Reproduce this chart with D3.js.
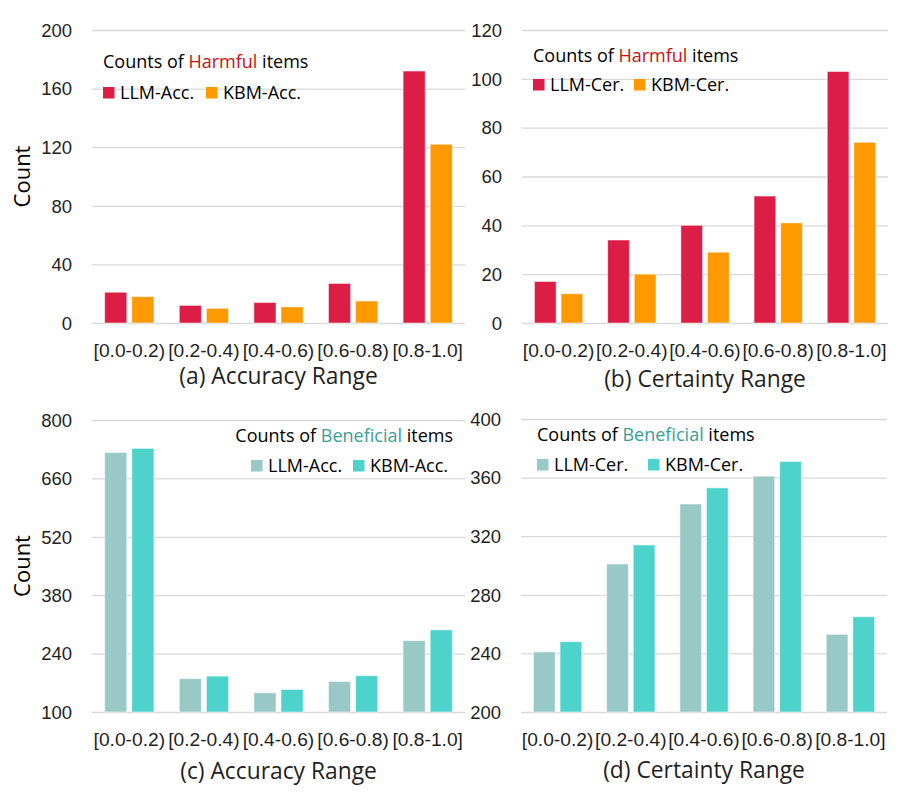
<!DOCTYPE html>
<html>
<head>
<meta charset="utf-8">
<script src="https://cdn.jsdelivr.net/npm/d3@7"></script>
<style>
  html, body { margin: 0; padding: 0; background: #fff; }
  svg { display: block; font-family: "Open Sans", "Noto Sans", sans-serif; }
</style>
</head>
<body>
<svg id="chart" width="897" height="797"></svg>
<script>
// ---------- data ----------
const categories = ["[0.0-0.2)", "[0.2-0.4)", "[0.4-0.6)", "[0.6-0.8)", "[0.8-1.0]"];

const harmfulAccLLM = [21, 12, 14, 27, 172];
const harmfulAccKBM = [18, 10, 11, 15, 122];
const harmfulCerLLM = [17, 34, 40, 52, 103];
const harmfulCerKBM = [12, 20, 29, 41, 74];
const beneficialAccLLM = [722, 180, 146, 173, 271];
const beneficialAccKBM = [732, 186, 154, 187, 297];
const beneficialCerLLM = [241, 301, 342, 361, 253];
const beneficialCerKBM = [248, 314, 353, 371, 265];

const ticksA = [0, 40, 80, 120, 160, 200];
const ticksB = [0, 20, 40, 60, 80, 100, 120];
const ticksC = [100, 240, 380, 520, 660, 800];
const ticksD = [200, 240, 280, 320, 360, 400];

const seriesNamesAcc = ["LLM-Acc.", "KBM-Acc."];
const seriesNamesCer = ["LLM-Cer.", "KBM-Cer."];
const titles = ["(a) Accuracy Range", "(b) Certainty Range", "(c) Accuracy Range", "(d) Certainty Range"];

// ---------- styles ----------
const harmfulColors = ["#DC1E46", "#FF9900"];
const beneficialColors = ["#98C9C6", "#4DD3CC"];
const harmfulWordColor = "#CC1010";
const beneficialWordColor = "#3A9E96";
const gridColor = "#D9D9D9";
const textColor = "#1f1f1f";

const svg = d3.select("#chart");

const panels = [
  { left: 92, right: 465, top: 30, bottom: 323, ticks: ticksA, values: [harmfulAccLLM, harmfulAccKBM],
    names: seriesNamesAcc, colors: harmfulColors, word: "Harmful", wordColor: harmfulWordColor,
    title: titles[0], titleY: 384, showCount: true,
    legend: { align: "left", x: 103, titleY: 68, rowY: 99, x2: 206 } },
  { left: 522, right: 888, top: 30, bottom: 323, ticks: ticksB, values: [harmfulCerLLM, harmfulCerKBM],
    names: seriesNamesCer, colors: harmfulColors, word: "Harmful", wordColor: harmfulWordColor,
    title: titles[1], titleY: 387, showCount: false,
    legend: { align: "left", x: 533, titleY: 62, rowY: 91, x2: 634 } },
  { left: 92, right: 465, top: 420, bottom: 712, ticks: ticksC, values: [beneficialAccLLM, beneficialAccKBM],
    names: seriesNamesAcc, colors: beneficialColors, word: "Beneficial", wordColor: beneficialWordColor,
    title: titles[2], titleY: 779, showCount: true,
    legend: { align: "right", x: 453, titleY: 442, rowY: 472, x1: 251, x2: 353 } },
  { left: 521, right: 887, top: 419, bottom: 712, ticks: ticksD, values: [beneficialCerLLM, beneficialCerKBM],
    names: seriesNamesCer, colors: beneficialColors, word: "Beneficial", wordColor: beneficialWordColor,
    title: titles[3], titleY: 778, showCount: false,
    legend: { align: "left", x: 537, titleY: 441, rowY: 471, x2: 648 } }
];

panels.forEach(p => {
  const g = svg.append("g");
  const ext = d3.extent(p.ticks);
  const y = d3.scaleLinear().domain(ext).range([p.bottom, p.top]);
  const x0 = d3.scaleBand().domain(categories).range([p.left, p.right]).paddingInner(0.34).paddingOuter(0.17);
  const x1 = d3.scaleBand().domain([0, 1]).range([0, x0.bandwidth()]).paddingInner(0.185).paddingOuter(0);

  // y axis with gridlines
  const yAxis = d3.axisLeft(y).tickValues(p.ticks).tickSize(-(p.right - p.left)).tickPadding(20).tickFormat(d3.format("d"));
  const ya = g.append("g").attr("transform", `translate(${p.left},0)`).call(yAxis);
  ya.select(".domain").remove();
  ya.selectAll(".tick line").attr("stroke", gridColor).attr("stroke-width", 1.3);
  ya.selectAll(".tick text").attr("fill", textColor).style("font-size", "18.5px").attr("x", -20).attr("dy", "0.34em");

  // bars
  p.values.forEach((vals, si) => {
    g.append("g").selectAll("rect").data(vals).join("rect")
      .attr("x", (d, i) => x0(categories[i]) + x1(si))
      .attr("y", d => y(d))
      .attr("width", x1.bandwidth())
      .attr("height", d => y(ext[0]) - y(d))
      .attr("fill", p.colors[si])
      .attr("stroke", "#ffffff")
      .attr("stroke-opacity", 0.5)
      .attr("stroke-width", 1);
  });

  // x axis labels
  const xAxis = d3.axisBottom(x0).tickSize(0).tickPadding(0);
  const xa = g.append("g").attr("transform", `translate(0,${p.bottom})`).call(xAxis);
  xa.select(".domain").remove();
  xa.selectAll(".tick text").attr("fill", textColor).style("font-size", "19.2px").attr("y", 34).attr("dy", 0);

  // axis title
  g.append("text").attr("x", (p.left + p.right) / 2).attr("y", p.titleY)
    .attr("text-anchor", "middle").attr("fill", textColor).style("font-size", "22.8px").text(p.title);

  if (p.showCount) {
    g.append("text").attr("transform", `translate(30,${(p.top + p.bottom) / 2}) rotate(-90)`)
      .attr("text-anchor", "middle").attr("fill", "#000").style("font-size", "22px").text("Count");
  }

  // legend
  const L = p.legend;
  const lt = g.append("text").attr("y", L.titleY).attr("fill", "#000").style("font-size", "18px")
    .attr("x", L.x).attr("text-anchor", L.align === "right" ? "end" : "start");
  lt.append("tspan").text("Counts of ");
  lt.append("tspan").attr("fill", p.wordColor).text(p.word);
  lt.append("tspan").text(" items");

  const itemXs = L.align === "right" ? [L.x1, L.x2] : [L.x, L.x2];
  p.names.forEach((nm, si) => {
    g.append("rect").attr("x", itemXs[si]).attr("y", L.rowY - 12).attr("width", 11.5).attr("height", 11.5)
      .attr("fill", p.colors[si]);
    g.append("text").attr("x", itemXs[si] + 17).attr("y", L.rowY).attr("fill", "#000")
      .style("font-size", "18px").text(nm);
  });
});
</script>
</body>
</html>
